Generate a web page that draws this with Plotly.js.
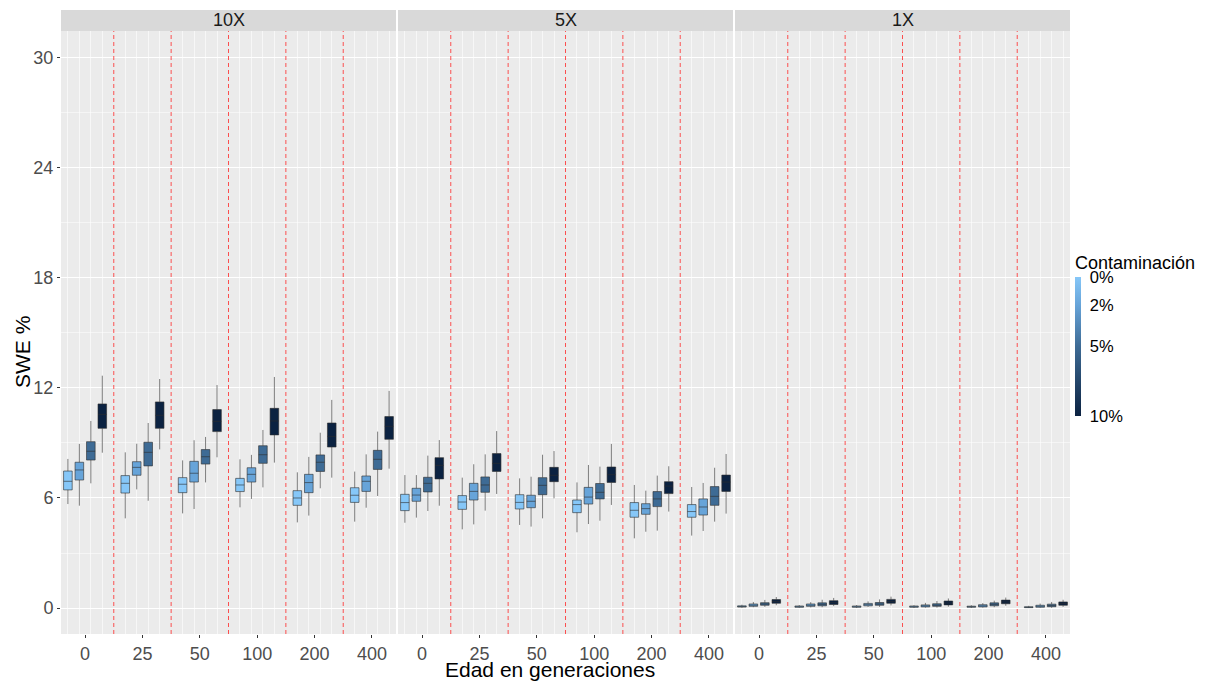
<!DOCTYPE html>
<html>
<head>
<meta charset="utf-8">
<script src="https://cdn.plot.ly/plotly-3.0.1.min.js"></script>
<style>html,body{margin:0;padding:0;background:#fff;}#chart{width:1220px;height:686px;}</style>
</head>
<body>
<div id="chart"></div>
<script>
// ---------- data ----------
var panels = ['10X', '5X', '1X'];
var ages = ['0', '25', '50', '100', '200', '400'];
var groupPos = [1, 2, 3, 4, 5, 6];
var separators = [1.5, 2.5, 3.5, 4.5, 5.5];
var levels = [0, 2, 5, 10];
var levelLabels = ['0%', '2%', '5%', '10%'];

// each array: [level 0%, 2%, 5%, 10%] x [age 0,25,50,100,200,400]
var lo_10X = [
  [5.67, 4.89, 5.16, 5.49, 4.67, 4.71],
  [5.58, 6.47, 5.40, 5.95, 5.04, 5.47],
  [6.80, 5.85, 6.85, 6.58, 6.53, 6.11],
  [8.47, 8.65, 8.22, 7.93, 7.11, 7.60]];
var q1_10X = [
  [6.44, 6.27, 6.29, 6.35, 5.60, 5.76],
  [6.98, 7.24, 6.87, 6.87, 6.29, 6.36],
  [8.07, 7.75, 7.85, 7.89, 7.45, 7.56],
  [9.80, 9.80, 9.62, 9.44, 8.78, 9.20]];
var med_10X = [
  [6.91, 6.80, 6.75, 6.71, 6.00, 6.15],
  [7.53, 7.67, 7.35, 7.29, 6.84, 6.91],
  [8.55, 8.49, 8.25, 8.36, 7.95, 8.11],
  [10.56, 10.51, 10.18, 10.20, 9.36, 9.91]];
var q3_10X = [
  [7.47, 7.22, 7.11, 7.07, 6.40, 6.56],
  [7.95, 7.98, 8.00, 7.65, 7.29, 7.20],
  [9.07, 9.04, 8.64, 8.85, 8.35, 8.60],
  [11.13, 11.24, 10.82, 10.89, 10.09, 10.44]];
var hi_10X = [
  [8.13, 8.49, 8.05, 8.11, 7.40, 7.44],
  [8.95, 8.96, 9.15, 8.35, 8.24, 8.38],
  [10.20, 10.09, 9.33, 9.71, 9.56, 9.62],
  [12.67, 12.49, 12.16, 12.60, 11.35, 11.84]];

var lo_5X = [
  [4.65, 4.29, 4.53, 4.13, 3.80, 3.95],
  [4.93, 4.56, 4.44, 4.58, 4.16, 4.20],
  [5.29, 5.31, 4.89, 4.76, 4.22, 4.71],
  [5.58, 6.22, 5.98, 5.62, 5.26, 5.15]];
var q1_5X = [
  [5.31, 5.38, 5.40, 5.20, 4.95, 4.95],
  [5.82, 5.89, 5.47, 5.67, 5.11, 5.07],
  [6.33, 6.31, 6.18, 5.95, 5.53, 5.60],
  [7.04, 7.45, 6.89, 6.85, 6.24, 6.36]];
var med_5X = [
  [5.75, 5.78, 5.76, 5.64, 5.33, 5.26],
  [6.16, 6.36, 5.82, 6.05, 5.42, 5.51],
  [6.80, 6.71, 6.69, 6.31, 5.95, 6.09],
  [7.78, 7.89, 7.24, 7.27, 6.65, 6.87]];
var q3_5X = [
  [6.20, 6.13, 6.18, 5.89, 5.75, 5.64],
  [6.53, 6.80, 6.15, 6.58, 5.69, 5.95],
  [7.13, 7.15, 7.11, 6.79, 6.35, 6.62],
  [8.20, 8.42, 7.67, 7.69, 6.89, 7.25]];
var hi_5X = [
  [7.25, 7.11, 7.07, 6.85, 6.71, 6.60],
  [7.25, 7.84, 7.16, 7.80, 6.40, 6.82],
  [8.31, 8.38, 8.36, 7.71, 7.22, 7.65],
  [9.16, 9.65, 8.56, 8.95, 7.73, 8.40]];

var lo_1X = [
  [0.01, 0.01, 0.00, 0.00, 0.00, 0.00],
  [0.04, 0.03, 0.06, 0.02, 0.02, 0.01],
  [0.06, 0.04, 0.06, 0.02, 0.04, 0.01],
  [0.15, 0.10, 0.14, 0.07, 0.12, 0.06]];
var q1_1X = [
  [0.05, 0.04, 0.04, 0.04, 0.04, 0.02],
  [0.09, 0.09, 0.12, 0.06, 0.06, 0.04],
  [0.15, 0.12, 0.15, 0.09, 0.12, 0.07],
  [0.26, 0.19, 0.26, 0.17, 0.23, 0.15]];
var med_1X = [
  [0.08, 0.07, 0.07, 0.07, 0.07, 0.04],
  [0.15, 0.15, 0.18, 0.11, 0.11, 0.09],
  [0.22, 0.20, 0.22, 0.15, 0.20, 0.13],
  [0.36, 0.29, 0.36, 0.27, 0.33, 0.24]];
var q3_1X = [
  [0.12, 0.11, 0.11, 0.11, 0.10, 0.07],
  [0.22, 0.22, 0.25, 0.17, 0.18, 0.15],
  [0.29, 0.28, 0.30, 0.23, 0.28, 0.21],
  [0.46, 0.40, 0.47, 0.38, 0.43, 0.33]];
var hi_1X = [
  [0.18, 0.16, 0.16, 0.15, 0.15, 0.12],
  [0.33, 0.32, 0.36, 0.28, 0.27, 0.24],
  [0.44, 0.45, 0.47, 0.38, 0.40, 0.33],
  [0.60, 0.55, 0.62, 0.52, 0.57, 0.45]];

var yTicks = [0, 6, 12, 18, 24, 30];

// ---------- styling / build ----------
var stats = {
  '10X': {lo: lo_10X, q1: q1_10X, med: med_10X, q3: q3_10X, hi: hi_10X},
  '5X':  {lo: lo_5X,  q1: q1_5X,  med: med_5X,  q3: q3_5X,  hi: hi_5X},
  '1X':  {lo: lo_1X,  q1: q1_1X,  med: med_1X,  q3: q3_1X,  hi: hi_1X}
};
var levelColors = ['#86C7F8', '#67A4D9', '#3E6B95', '#0B2241'];
var colorscale = [[0, '#0B2241'], [0.5, '#3E6B95'], [0.8, '#67A4D9'], [1, '#86C7F8']];

var FONT = 'Liberation Sans, Arial, sans-serif';
var W = 1009, H = 603;
var domains = [[0, 335 / W], [337 / W, 672 / W], [674 / W, 1]];
var xNames = ['x', 'x2', 'x3'];
var boxGap = 0.2, boxGroupGap = 0.25;
var slot = (1 - boxGap) / levels.length;

var traces = [];
panels.forEach(function (p, pi) {
  var s = stats[p];
  levels.forEach(function (lv, li) {
    traces.push({
      type: 'box',
      name: levelLabels[li],
      offsetgroup: levelLabels[li],
      xaxis: xNames[pi], yaxis: 'y',
      x: groupPos,
      q1: s.q1[li], median: s.med[li], q3: s.q3[li],
      lowerfence: s.lo[li], upperfence: s.hi[li],
      fillcolor: levelColors[li],
      line: {color: 'rgba(45,45,45,0.6)', width: 1},
      whiskerwidth: 0,
      showlegend: false,
      hoverinfo: 'skip'
    });
  });
});

// colorbar legend
traces.push({
  type: 'scatter', mode: 'markers', x: [null], y: [null],
  xaxis: 'x', yaxis: 'y', showlegend: false, hoverinfo: 'skip',
  marker: {
    color: levels.map(function (v) { return -v; }),
    cmin: -10, cmax: 0, colorscale: colorscale, showscale: true,
    colorbar: {
      x: (1075 - 61) / W, xanchor: 'left', xref: 'paper', xpad: 0,
      y: (634 - 334) / H, yanchor: 'middle', yref: 'paper', ypad: 0,
      len: 164, lenmode: 'pixels', thickness: 6, outlinewidth: 0,
      tickmode: 'array', tickvals: levels.map(function (v) { return -v; }),
      ticktext: levelLabels, ticks: 'outside', ticklen: 6, tickcolor: 'rgba(0,0,0,0)',
      tickfont: {family: FONT, size: 16.5, color: '#000'},
      title: {text: 'Contaminación', side: 'top', font: {family: FONT, size: 18, color: '#000'}}
    }
  }
});

var minorX = [];
groupPos.forEach(function (g) {
  levels.forEach(function (lv, li) {
    minorX.push(g + (-(1 - boxGap) / 2 + slot * (li + 0.5)));
  });
});

function xAxis(i) {
  return {
    domain: domains[i], anchor: 'y', range: [0.58, 6.42],
    tickmode: 'array', tickvals: groupPos, ticktext: ages,
    showgrid: false, zeroline: false, showline: false,
    ticks: 'outside', ticklen: 3, tickcolor: '#333', tickwidth: 1,
    tickfont: {family: FONT, size: 18, color: '#4D4D4D'},
    minor: {tickmode: 'array', tickvals: minorX, showgrid: true, gridcolor: '#FFFFFF', gridwidth: 0.6, ticks: ''},
    fixedrange: true
  };
}

var shapes = [], annotations = [];
panels.forEach(function (p, pi) {
  separators.forEach(function (sx) {
    shapes.push({type: 'line', xref: xNames[pi], yref: 'paper', x0: sx, x1: sx, y0: 0, y1: 1,
      line: {color: 'rgba(255,40,40,0.8)', width: 1, dash: '4px,3px'}, layer: 'above'});
  });
  shapes.push({type: 'rect', xref: 'paper', yref: 'paper', x0: domains[pi][0], x1: domains[pi][1],
    y0: 1, y1: 1 + 21 / H, fillcolor: '#D9D9D9', line: {width: 0}, layer: 'above'});
  annotations.push({xref: 'paper', yref: 'paper', x: (domains[pi][0] + domains[pi][1]) / 2, y: 1 + 10.5 / H,
    xanchor: 'center', yanchor: 'middle', showarrow: false, text: p,
    font: {family: FONT, size: 18, color: '#1A1A1A'}});
});
annotations.push({xref: 'paper', yref: 'paper', x: (550 - 61) / W, y: -(669 - 634) / H,
  xanchor: 'center', yanchor: 'middle', showarrow: false, text: 'Edad en generaciones',
  font: {family: FONT, size: 21, color: '#000'}});
annotations.push({xref: 'paper', yref: 'paper', x: (22 - 61) / W, y: (634 - 352) / H,
  xanchor: 'center', yanchor: 'middle', showarrow: false, text: 'SWE %', textangle: -90,
  font: {family: FONT, size: 21, color: '#000'}});

var layout = {
  width: 1220, height: 686,
  margin: {l: 61, r: 150, t: 31, b: 52, pad: 0},
  paper_bgcolor: '#FFFFFF', plot_bgcolor: '#EBEBEB',
  font: {family: FONT},
  boxmode: 'group', boxgap: boxGap, boxgroupgap: boxGroupGap,
  showlegend: false,
  xaxis: xAxis(0), xaxis2: xAxis(1), xaxis3: xAxis(2),
  yaxis: {
    range: [-1.418, 31.47], tickmode: 'array', tickvals: yTicks,
    showgrid: true, gridcolor: '#FFFFFF', gridwidth: 1, zeroline: false, showline: false,
    ticks: 'outside', ticklen: 3, tickcolor: '#333', tickwidth: 1,
    tickfont: {family: FONT, size: 18, color: '#4D4D4D'},
    minor: {dtick: 3, tick0: 0, showgrid: true, gridcolor: '#FFFFFF', gridwidth: 0.5, ticks: ''},
    fixedrange: true
  },
  shapes: shapes, annotations: annotations
};

Plotly.newPlot('chart', traces, layout, {staticPlot: true, displayModeBar: false});
</script>
</body>
</html>
